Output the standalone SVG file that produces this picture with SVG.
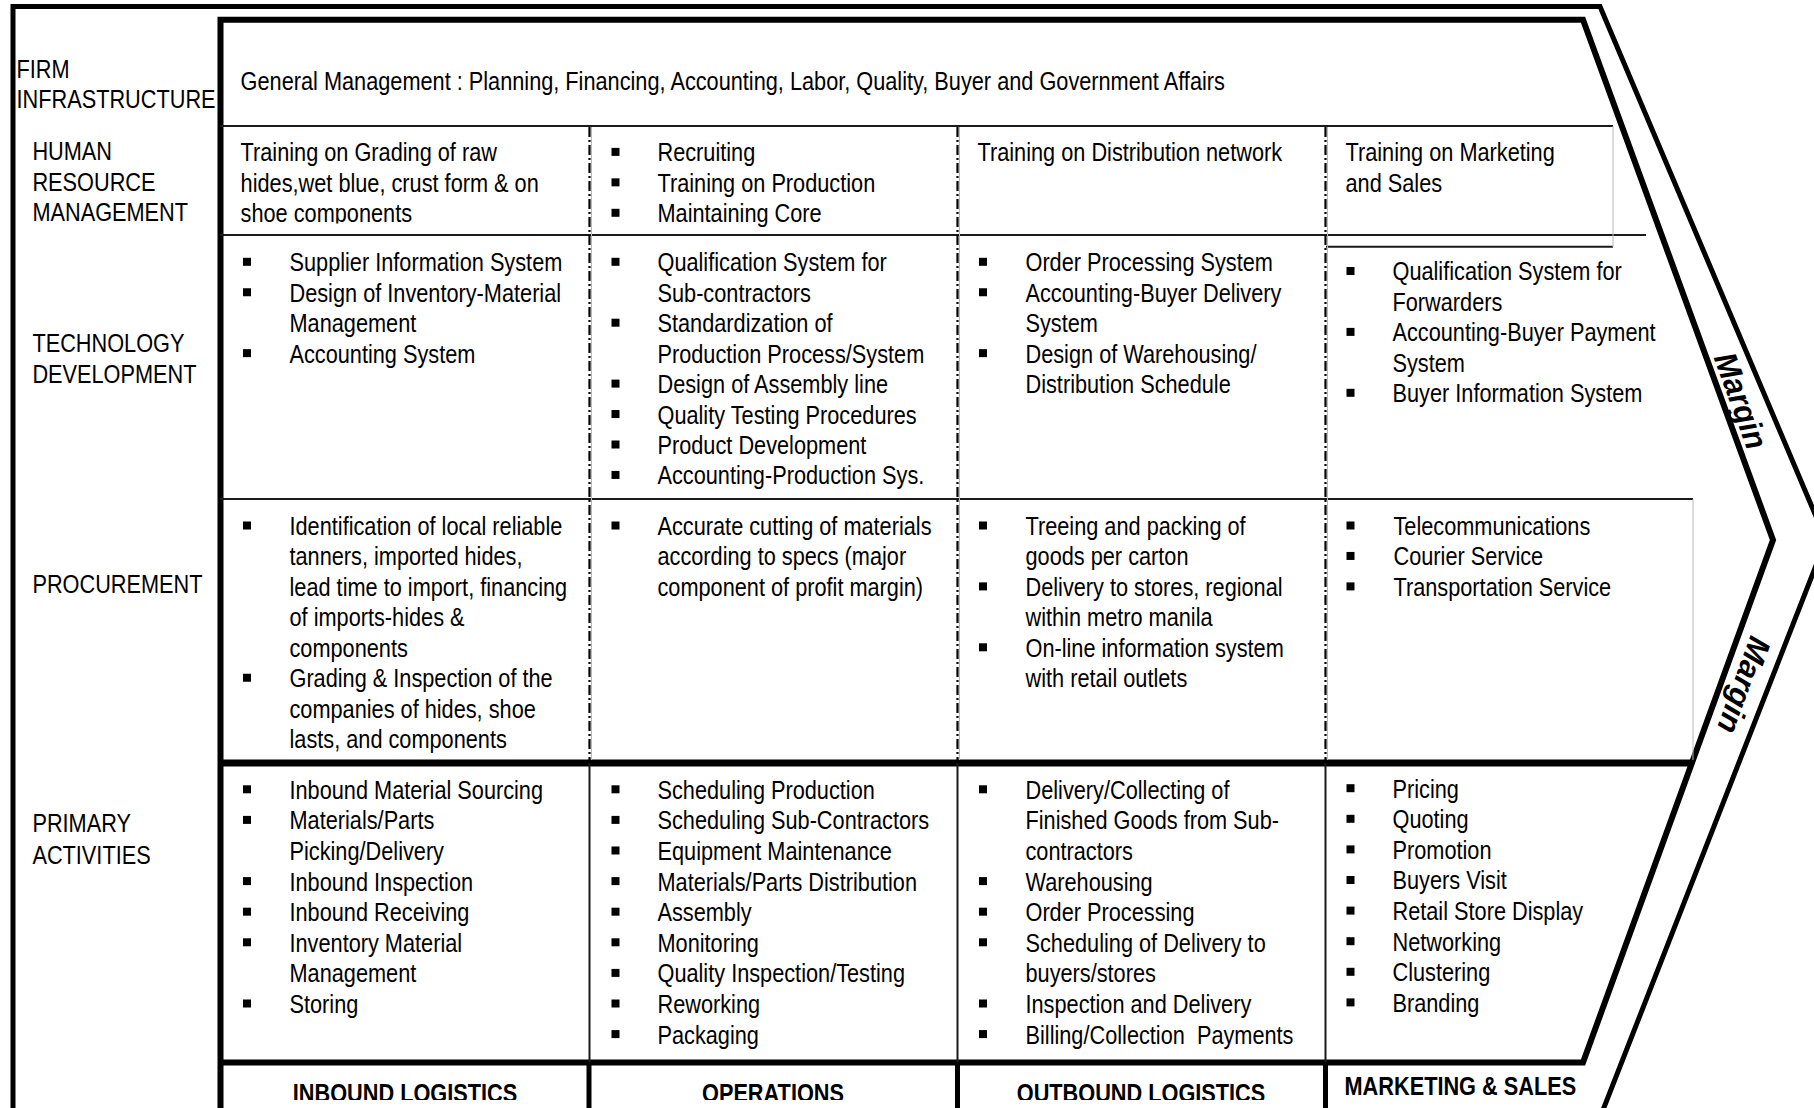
<svg xmlns="http://www.w3.org/2000/svg" xmlns:xlink="http://www.w3.org/1999/xlink" width="1814" height="1108" viewBox="0 0 1814 1108">
<style>
.t{font-family:"Liberation Sans",Arial,sans-serif;font-size:26.5px;fill:#000}
.b{font-family:"Liberation Sans",Arial,sans-serif;font-size:26.5px;font-weight:bold;fill:#000}
.m{font-family:"Liberation Sans",Arial,sans-serif;font-size:32px;font-weight:bold;font-style:italic;fill:#000}
.thin{stroke:#1a1a1a;stroke-width:2;fill:none}
.gray{stroke:#b8b8b8;stroke-width:1;fill:none}
.dash{stroke:#000;stroke-width:2.2;stroke-dasharray:10 3 2 3;fill:none}
.heavy{stroke:#000;fill:none;stroke-linejoin:miter}
</style>
<defs>
<rect id="bul" x="-4" y="-4" width="8" height="8" fill="#000"/>
<clipPath id="clipHR1"><rect x="222" y="128" width="366" height="95.5"/></clipPath>
<clipPath id="clipBot"><rect x="222" y="1066" width="1100" height="34"/></clipPath>
</defs>
<rect width="1814" height="1108" fill="#fff"/>

<g id="frame">
<path class="heavy" stroke-width="5" d="M13,1110 V6.5 H1600 L1826,540 L1603,1110"/>
<path class="heavy" stroke-width="6" d="M220.5,1110 V19.7 H1583 L1773,540 L1583,1062.5 H220.5"/>
<line class="heavy" stroke-width="7" x1="220" y1="763" x2="1692" y2="763"/>
</g>

<g id="connectors">
<line class="thin" x1="220" y1="126" x2="1613" y2="126"/>
<line class="thin" x1="220" y1="235" x2="1646" y2="235"/>
<line class="thin" x1="1326" y1="246.7" x2="1613" y2="246.7"/>
<line class="gray" x1="1613" y1="126" x2="1613" y2="247"/>
<line class="thin" x1="220" y1="499" x2="1693" y2="499"/>
<line class="gray" x1="1693" y1="499" x2="1693" y2="760"/>
<line class="gray" x1="591.5" y1="127" x2="591.5" y2="760"/>
<line class="gray" x1="959.5" y1="127" x2="959.5" y2="760"/>
<line class="gray" x1="1327.5" y1="127" x2="1327.5" y2="760"/>
<line class="dash" x1="589.5" y1="127" x2="589.5" y2="760"/>
<line class="dash" x1="957.5" y1="127" x2="957.5" y2="760"/>
<line class="dash" x1="1325.5" y1="127" x2="1325.5" y2="760"/>
<line class="thin" stroke-width="2.4" x1="589.5" y1="763" x2="589.5" y2="1062"/>
<line class="thin" stroke-width="2.4" x1="957.5" y1="763" x2="957.5" y2="1062"/>
<line class="thin" stroke-width="2.4" x1="1325.5" y1="763" x2="1325.5" y2="1062"/>
<line class="heavy" stroke-width="5" x1="589" y1="1062" x2="589" y2="1108"/>
<line class="heavy" stroke-width="5" x1="957.5" y1="1062" x2="957.5" y2="1108"/>
<line class="heavy" stroke-width="5" x1="1325.5" y1="1062" x2="1325.5" y2="1108"/>
</g>

<g id="labels">
<g transform="translate(16.5 0) scale(0.82 1)">
<text class="t" x="0" y="78.1">FIRM</text>
<text class="t" x="0" y="108.2">INFRASTRUCTURE</text>
</g>
<g transform="translate(32.4 0) scale(0.82 1)">
<text class="t" x="0" y="160.5">HUMAN</text>
<text class="t" x="0" y="191">RESOURCE</text>
<text class="t" x="0" y="221.5">MANAGEMENT</text>
<text class="t" x="0" y="352.3">TECHNOLOGY</text>
<text class="t" x="0" y="383.5">DEVELOPMENT</text>
<text class="t" x="0" y="592.9">PROCUREMENT</text>
<text class="t" x="0" y="832.4">PRIMARY</text>
<text class="t" x="0" y="863.6">ACTIVITIES</text>
</g>
</g>

<g id="firm-infrastructure">
<g transform="translate(240.6 0) scale(0.82 1)">
<text class="t" x="0" y="89.7">General Management : Planning, Financing, Accounting, Labor, Quality, Buyer and Government Affairs</text>
</g>
</g>

<g id="hr-inbound" clip-path="url(#clipHR1)">
<g transform="translate(240.6 0) scale(0.82 1)">
<text class="t" x="0" y="161.4">Training on Grading of raw</text>
<text class="t" x="0" y="191.85">hides,wet blue, crust form &amp; on</text>
<text class="t" x="0" y="222.3">shoe components</text>
</g>
</g>
<g id="hr-operations">
<use xlink:href="#bul" x="615.5" y="151.9"/>
<use xlink:href="#bul" x="615.5" y="182.35"/>
<use xlink:href="#bul" x="615.5" y="212.8"/>
<g transform="translate(657.5 0) scale(0.82 1)">
<text class="t" x="0" y="161.4">Recruiting</text>
<text class="t" x="0" y="191.85">Training on Production</text>
<text class="t" x="0" y="222.3">Maintaining Core</text>
</g>
</g>
<g id="hr-outbound">
<g transform="translate(977.5 0) scale(0.82 1)">
<text class="t" x="0" y="161.4">Training on Distribution network</text>
</g>
</g>
<g id="hr-marketing">
<g transform="translate(1345.5 0) scale(0.82 1)">
<text class="t" x="0" y="161.4">Training on Marketing</text>
<text class="t" x="0" y="191.85">and Sales</text>
</g>
</g>

<g id="tech-inbound">
<use xlink:href="#bul" x="247" y="261.8"/>
<use xlink:href="#bul" x="247" y="292.25"/>
<use xlink:href="#bul" x="247" y="353.15"/>
<g transform="translate(289.5 0) scale(0.82 1)">
<text class="t" x="0" y="271.3">Supplier Information System</text>
<text class="t" x="0" y="301.75">Design of Inventory-Material</text>
<text class="t" x="0" y="332.2">Management</text>
<text class="t" x="0" y="362.65">Accounting System</text>
</g>
</g>
<g id="tech-operations">
<use xlink:href="#bul" x="615.5" y="261.8"/>
<use xlink:href="#bul" x="615.5" y="322.7"/>
<use xlink:href="#bul" x="615.5" y="383.6"/>
<use xlink:href="#bul" x="615.5" y="414.05"/>
<use xlink:href="#bul" x="615.5" y="444.5"/>
<use xlink:href="#bul" x="615.5" y="474.95"/>
<g transform="translate(657.5 0) scale(0.82 1)">
<text class="t" x="0" y="271.3">Qualification System for</text>
<text class="t" x="0" y="301.75">Sub-contractors</text>
<text class="t" x="0" y="332.2">Standardization of</text>
<text class="t" x="0" y="362.65">Production Process/System</text>
<text class="t" x="0" y="393.1">Design of Assembly line</text>
<text class="t" x="0" y="423.55">Quality Testing Procedures</text>
<text class="t" x="0" y="454">Product Development</text>
<text class="t" x="0" y="484.45">Accounting-Production Sys.</text>
</g>
</g>
<g id="tech-outbound">
<use xlink:href="#bul" x="983" y="261.8"/>
<use xlink:href="#bul" x="983" y="292.25"/>
<use xlink:href="#bul" x="983" y="353.15"/>
<g transform="translate(1025.5 0) scale(0.82 1)">
<text class="t" x="0" y="271.3">Order Processing System</text>
<text class="t" x="0" y="301.75">Accounting-Buyer Delivery</text>
<text class="t" x="0" y="332.2">System</text>
<text class="t" x="0" y="362.65">Design of Warehousing/</text>
<text class="t" x="0" y="393.1">Distribution Schedule</text>
</g>
</g>
<g id="tech-marketing">
<use xlink:href="#bul" x="1350.5" y="271"/>
<use xlink:href="#bul" x="1350.5" y="331.9"/>
<use xlink:href="#bul" x="1350.5" y="392.8"/>
<g transform="translate(1392.5 0) scale(0.82 1)">
<text class="t" x="0" y="280.5">Qualification System for</text>
<text class="t" x="0" y="310.95">Forwarders</text>
<text class="t" x="0" y="341.4">Accounting-Buyer Payment</text>
<text class="t" x="0" y="371.85">System</text>
<text class="t" x="0" y="402.3">Buyer Information System</text>
</g>
</g>

<g id="proc-inbound">
<use xlink:href="#bul" x="247" y="525.5"/>
<use xlink:href="#bul" x="247" y="677.75"/>
<g transform="translate(289.5 0) scale(0.82 1)">
<text class="t" x="0" y="535">Identification of local reliable</text>
<text class="t" x="0" y="565.45">tanners, imported hides,</text>
<text class="t" x="0" y="595.9">lead time to import, financing</text>
<text class="t" x="0" y="626.35">of imports-hides &amp;</text>
<text class="t" x="0" y="656.8">components</text>
<text class="t" x="0" y="687.25">Grading &amp; Inspection of the</text>
<text class="t" x="0" y="717.7">companies of hides, shoe</text>
<text class="t" x="0" y="748.15">lasts, and components</text>
</g>
</g>
<g id="proc-operations">
<use xlink:href="#bul" x="615.5" y="525.5"/>
<g transform="translate(657.5 0) scale(0.82 1)">
<text class="t" x="0" y="535">Accurate cutting of materials</text>
<text class="t" x="0" y="565.45">according to specs (major</text>
<text class="t" x="0" y="595.9">component of profit margin)</text>
</g>
</g>
<g id="proc-outbound">
<use xlink:href="#bul" x="983" y="525.5"/>
<use xlink:href="#bul" x="983" y="586.4"/>
<use xlink:href="#bul" x="983" y="647.3"/>
<g transform="translate(1025.5 0) scale(0.82 1)">
<text class="t" x="0" y="535">Treeing and packing of</text>
<text class="t" x="0" y="565.45">goods per carton</text>
<text class="t" x="0" y="595.9">Delivery to stores, regional</text>
<text class="t" x="0" y="626.35">within metro manila</text>
<text class="t" x="0" y="656.8">On-line information system</text>
<text class="t" x="0" y="687.25">with retail outlets</text>
</g>
</g>
<g id="proc-marketing">
<use xlink:href="#bul" x="1350.5" y="525.5"/>
<use xlink:href="#bul" x="1350.5" y="555.95"/>
<use xlink:href="#bul" x="1350.5" y="586.4"/>
<g transform="translate(1393.5 0) scale(0.82 1)">
<text class="t" x="0" y="535">Telecommunications</text>
<text class="t" x="0" y="565.45">Courier Service</text>
<text class="t" x="0" y="595.9">Transportation Service</text>
</g>
</g>

<g id="primary-inbound">
<use xlink:href="#bul" x="247" y="789.3"/>
<use xlink:href="#bul" x="247" y="819.9"/>
<use xlink:href="#bul" x="247" y="881.1"/>
<use xlink:href="#bul" x="247" y="911.7"/>
<use xlink:href="#bul" x="247" y="942.3"/>
<use xlink:href="#bul" x="247" y="1003.5"/>
<g transform="translate(289.5 0) scale(0.82 1)">
<text class="t" x="0" y="798.8">Inbound Material Sourcing</text>
<text class="t" x="0" y="829.4">Materials/Parts</text>
<text class="t" x="0" y="860">Picking/Delivery</text>
<text class="t" x="0" y="890.6">Inbound Inspection</text>
<text class="t" x="0" y="921.2">Inbound Receiving</text>
<text class="t" x="0" y="951.8">Inventory Material</text>
<text class="t" x="0" y="982.4">Management</text>
<text class="t" x="0" y="1013">Storing</text>
</g>
</g>
<g id="primary-operations">
<use xlink:href="#bul" x="615.5" y="789.3"/>
<use xlink:href="#bul" x="615.5" y="819.9"/>
<use xlink:href="#bul" x="615.5" y="850.5"/>
<use xlink:href="#bul" x="615.5" y="881.1"/>
<use xlink:href="#bul" x="615.5" y="911.7"/>
<use xlink:href="#bul" x="615.5" y="942.3"/>
<use xlink:href="#bul" x="615.5" y="972.9"/>
<use xlink:href="#bul" x="615.5" y="1003.5"/>
<use xlink:href="#bul" x="615.5" y="1034.1"/>
<g transform="translate(657.5 0) scale(0.82 1)">
<text class="t" x="0" y="798.8">Scheduling Production</text>
<text class="t" x="0" y="829.4">Scheduling Sub-Contractors</text>
<text class="t" x="0" y="860">Equipment Maintenance</text>
<text class="t" x="0" y="890.6">Materials/Parts Distribution</text>
<text class="t" x="0" y="921.2">Assembly</text>
<text class="t" x="0" y="951.8">Monitoring</text>
<text class="t" x="0" y="982.4">Quality Inspection/Testing</text>
<text class="t" x="0" y="1013">Reworking</text>
<text class="t" x="0" y="1043.6">Packaging</text>
</g>
</g>
<g id="primary-outbound">
<use xlink:href="#bul" x="983" y="789.3"/>
<use xlink:href="#bul" x="983" y="881.1"/>
<use xlink:href="#bul" x="983" y="911.7"/>
<use xlink:href="#bul" x="983" y="942.3"/>
<use xlink:href="#bul" x="983" y="1003.5"/>
<use xlink:href="#bul" x="983" y="1034.1"/>
<g transform="translate(1025.5 0) scale(0.82 1)">
<text class="t" x="0" y="798.8">Delivery/Collecting of</text>
<text class="t" x="0" y="829.4">Finished Goods from Sub-</text>
<text class="t" x="0" y="860">contractors</text>
<text class="t" x="0" y="890.6">Warehousing</text>
<text class="t" x="0" y="921.2">Order Processing</text>
<text class="t" x="0" y="951.8">Scheduling of Delivery to</text>
<text class="t" x="0" y="982.4">buyers/stores</text>
<text class="t" x="0" y="1013">Inspection and Delivery</text>
<text class="t" x="0" y="1043.6">Billing/Collection&#160; Payments</text>
</g>
</g>
<g id="primary-marketing">
<use xlink:href="#bul" x="1350.5" y="788.2"/>
<use xlink:href="#bul" x="1350.5" y="818.8"/>
<use xlink:href="#bul" x="1350.5" y="849.4"/>
<use xlink:href="#bul" x="1350.5" y="880"/>
<use xlink:href="#bul" x="1350.5" y="910.6"/>
<use xlink:href="#bul" x="1350.5" y="941.2"/>
<use xlink:href="#bul" x="1350.5" y="971.8"/>
<use xlink:href="#bul" x="1350.5" y="1002.4"/>
<g transform="translate(1392.5 0) scale(0.82 1)">
<text class="t" x="0" y="797.7">Pricing</text>
<text class="t" x="0" y="828.3">Quoting</text>
<text class="t" x="0" y="858.9">Promotion</text>
<text class="t" x="0" y="889.5">Buyers Visit</text>
<text class="t" x="0" y="920.1">Retail Store Display</text>
<text class="t" x="0" y="950.7">Networking</text>
<text class="t" x="0" y="981.3">Clustering</text>
<text class="t" x="0" y="1011.9">Branding</text>
</g>
</g>

<g id="primary-headings">
<g clip-path="url(#clipBot)">
<g transform="translate(405 0) scale(0.82 1)"><text class="b" x="0" y="1102" text-anchor="middle">INBOUND LOGISTICS</text></g>
<g transform="translate(773 0) scale(0.82 1)"><text class="b" x="0" y="1102" text-anchor="middle">OPERATIONS</text></g>
<g transform="translate(1141 0) scale(0.82 1)"><text class="b" x="0" y="1102" text-anchor="middle">OUTBOUND LOGISTICS</text></g>
</g>
<g transform="translate(1344.5 0) scale(0.82 1)"><text class="b" x="0" y="1095">MARKETING &amp; SALES</text></g>
</g>

<g id="margin">
<text class="m" transform="translate(1740,401) rotate(70)" y="10" text-anchor="middle" textLength="100" lengthAdjust="spacingAndGlyphs">Margin</text>
<text class="m" transform="translate(1743,685) rotate(110)" y="10" text-anchor="middle" textLength="100" lengthAdjust="spacingAndGlyphs">Margin</text>
</g>
</svg>
